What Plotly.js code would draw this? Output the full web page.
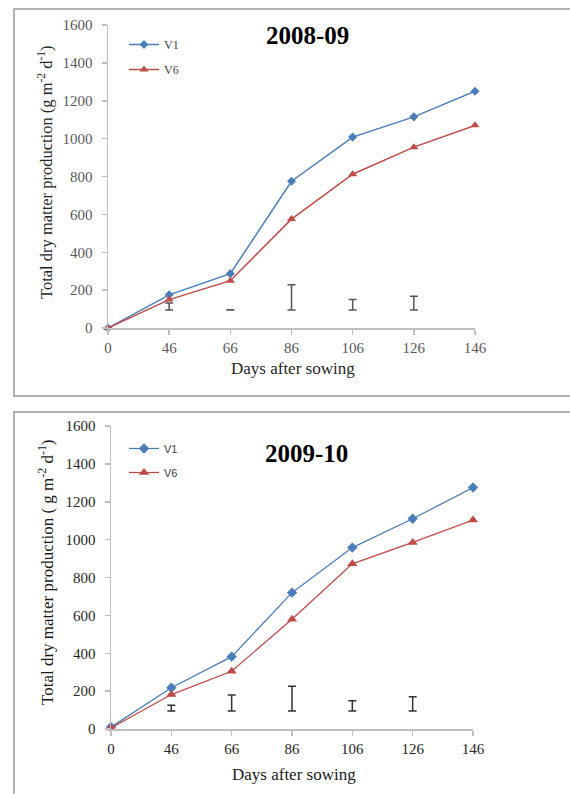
<!DOCTYPE html>
<html>
<head>
<meta charset="utf-8">
<script src="https://cdn.plot.ly/plotly-3.0.1.min.js"></script>
<style>html,body{margin:0;padding:0;background:#fff;}#chart{width:570px;height:794px;}</style>
</head>
<body>
<div id="chart"></div>
<script>
// ---- data ----
var days = ['0', '46', '66', '86', '106', '126', '146'];

// 2008-09
var v1_0809 = [0, 175, 287, 775, 1008, 1115, 1250];
var v6_0809 = [0, 150, 250, 575, 812, 955, 1070];
var lsdDays_0809 = ['46', '66', '86', '106', '126'];
var lsdBase_0809 = [95, 95, 95, 95, 95];
var lsd_0809 = [37, 2, 134, 55, 72];

// 2009-10
var v1_0910 = [10, 218, 382, 720, 958, 1110, 1275];
var v6_0910 = [5, 182, 305, 580, 872, 985, 1103];
var lsdDays_0910 = ['46', '66', '86', '106', '126'];
var lsdBase_0910 = [95, 95, 95, 95, 95];
var lsd_0910 = [31, 84, 131, 54, 75];

var seriesNames = ['V1', 'V6'];
var yTicks = [0, 200, 400, 600, 800, 1000, 1200, 1400, 1600];
var yTickText = ['0', '200', '400', '600', '800', '1000', '1200', '1400', '1600'];

// ---- styling ----
var W = 570, H = 794;
var blue = '#4a7ebb', red = '#be4b48';
var serif = 'Liberation Serif, Times New Roman, serif';
var sans = 'Liberation Sans, Arial, sans-serif';
function px(x) { return x / W; }
function py(y) { return 1 - y / H; }

var traces = [
  {x: days, y: v1_0809, name: seriesNames[0], type: 'scatter', mode: 'lines+markers',
   line: {color: blue, width: 1.5}, marker: {symbol: 'diamond', size: 7, color: blue},
   xaxis: 'x', yaxis: 'y', legend: 'legend', legendgroup: 'a1', cliponaxis: false},
  {x: days, y: v6_0809, name: seriesNames[1], type: 'scatter', mode: 'lines+markers',
   line: {color: red, width: 1.5}, marker: {symbol: 'triangle-up', size: 8, color: red},
   xaxis: 'x', yaxis: 'y', legend: 'legend', legendgroup: 'a2', cliponaxis: false},
  {x: lsdDays_0809, y: lsdBase_0809, type: 'scatter', mode: 'markers', showlegend: false,
   marker: {size: 1, opacity: 0}, hoverinfo: 'skip',
   error_y: {type: 'data', symmetric: false, array: lsd_0809, arrayminus: [0,0,0,0,0],
             color: '#555555', thickness: 1.5, width: 4},
   xaxis: 'x', yaxis: 'y'},
  {x: days, y: v1_0910, name: seriesNames[0], type: 'scatter', mode: 'lines+markers',
   line: {color: blue, width: 1.3}, marker: {symbol: 'diamond', size: 8, color: blue},
   xaxis: 'x2', yaxis: 'y2', legend: 'legend2', legendgroup: 'b1', cliponaxis: false},
  {x: days, y: v6_0910, name: seriesNames[1], type: 'scatter', mode: 'lines+markers',
   line: {color: red, width: 1.3}, marker: {symbol: 'triangle-up', size: 9, color: red},
   xaxis: 'x2', yaxis: 'y2', legend: 'legend2', legendgroup: 'b2', cliponaxis: false},
  {x: lsdDays_0910, y: lsdBase_0910, type: 'scatter', mode: 'markers', showlegend: false,
   marker: {size: 1, opacity: 0}, hoverinfo: 'skip',
   error_y: {type: 'data', symmetric: false, array: lsd_0910, arrayminus: [0,0,0,0,0],
             color: '#333333', thickness: 1.5, width: 4},
   xaxis: 'x2', yaxis: 'y2'}
];

function xAxis(domain, anchor, color) {
  return {domain: domain, anchor: anchor, type: 'category', categoryorder: 'array', categoryarray: days,
    range: [0, 6], showgrid: false, zeroline: false, showline: true, linecolor: '#bfbfbf', linewidth: 1.5,
    ticks: 'outside', ticklen: 5, tickcolor: '#bfbfbf', tickwidth: 1.5,
    tickfont: {family: serif, size: 15, color: color}, fixedrange: true};
}
function yAxis(domain, anchor, color) {
  return {domain: domain, anchor: anchor, range: [0, 1600], tickvals: yTicks, ticktext: yTickText,
    showgrid: false, zeroline: false, showline: true, linecolor: '#bfbfbf', linewidth: 1.5,
    ticks: 'outside', ticklen: 5, tickcolor: '#bfbfbf', tickwidth: 1.5, ticklabelstandoff: 6,
    tickfont: {family: serif, size: 15, color: color}, fixedrange: true};
}

var layout = {
  width: W, height: H, margin: {l: 0, r: 0, t: 0, b: 0},
  paper_bgcolor: '#ffffff', plot_bgcolor: 'rgba(0,0,0,0)', showlegend: true,
  xaxis: xAxis([px(108), px(475)], 'y', '#595959'),
  yaxis: yAxis([py(328), py(25)], 'x', '#595959'),
  xaxis2: xAxis([px(111), px(473)], 'y2', '#262626'),
  yaxis2: yAxis([py(729), py(426)], 'x2', '#262626'),
  legend: {x: px(124), y: py(30), xanchor: 'left', yanchor: 'top', bgcolor: 'rgba(0,0,0,0)',
    font: {family: serif, size: 12, color: '#404040'}, traceorder: 'grouped', tracegroupgap: 6,
    itemwidth: 30},
  legend2: {x: px(124), y: py(434), xanchor: 'left', yanchor: 'top', bgcolor: 'rgba(0,0,0,0)',
    font: {family: sans, size: 11, color: '#404040'}, traceorder: 'grouped', tracegroupgap: 5,
    itemwidth: 30},
  shapes: [
    {type: 'rect', xref: 'paper', yref: 'paper', x0: px(14), x1: 1.02, y0: py(396), y1: py(9),
     line: {color: '#9a9a9a', width: 1.5}, fillcolor: 'rgba(0,0,0,0)'},
    {type: 'rect', xref: 'paper', yref: 'paper', x0: px(14), x1: 1.02, y0: -0.02, y1: py(412),
     line: {color: '#9a9a9a', width: 1.5}, fillcolor: 'rgba(0,0,0,0)'}
  ],
  annotations: [
    {text: '<b>2008-09</b>', xref: 'paper', yref: 'paper', x: px(307), y: py(35),
     xanchor: 'center', yanchor: 'middle', showarrow: false, font: {family: serif, size: 25, color: '#000'}},
    {text: '<b>2009-10</b>', xref: 'paper', yref: 'paper', x: px(306), y: py(453),
     xanchor: 'center', yanchor: 'middle', showarrow: false, font: {family: serif, size: 25, color: '#000'}},
    {text: 'Days after sowing', xref: 'paper', yref: 'paper', x: px(293), y: py(368),
     xanchor: 'center', yanchor: 'middle', showarrow: false, font: {family: serif, size: 17, color: '#262626'}},
    {text: 'Days after sowing', xref: 'paper', yref: 'paper', x: px(294), y: py(774),
     xanchor: 'center', yanchor: 'middle', showarrow: false, font: {family: serif, size: 17, color: '#1a1a1a'}},
    {text: 'Total dry matter production (g m<sup>-2</sup> d<sup>-1</sup>)', xref: 'paper', yref: 'paper',
     x: px(45), y: py(172), textangle: -90, xanchor: 'center', yanchor: 'middle', showarrow: false,
     font: {family: serif, size: 16.5, color: '#262626'}},
    {text: 'Total dry matter production ( g m<sup>-2</sup> d<sup>-1</sup>)', xref: 'paper', yref: 'paper',
     x: px(46), y: py(572), textangle: -90, xanchor: 'center', yanchor: 'middle', showarrow: false,
     font: {family: serif, size: 17, color: '#1a1a1a'}}
  ]
};

Plotly.newPlot('chart', traces, layout, {staticPlot: true, displayModeBar: false});
</script>
</body>
</html>
